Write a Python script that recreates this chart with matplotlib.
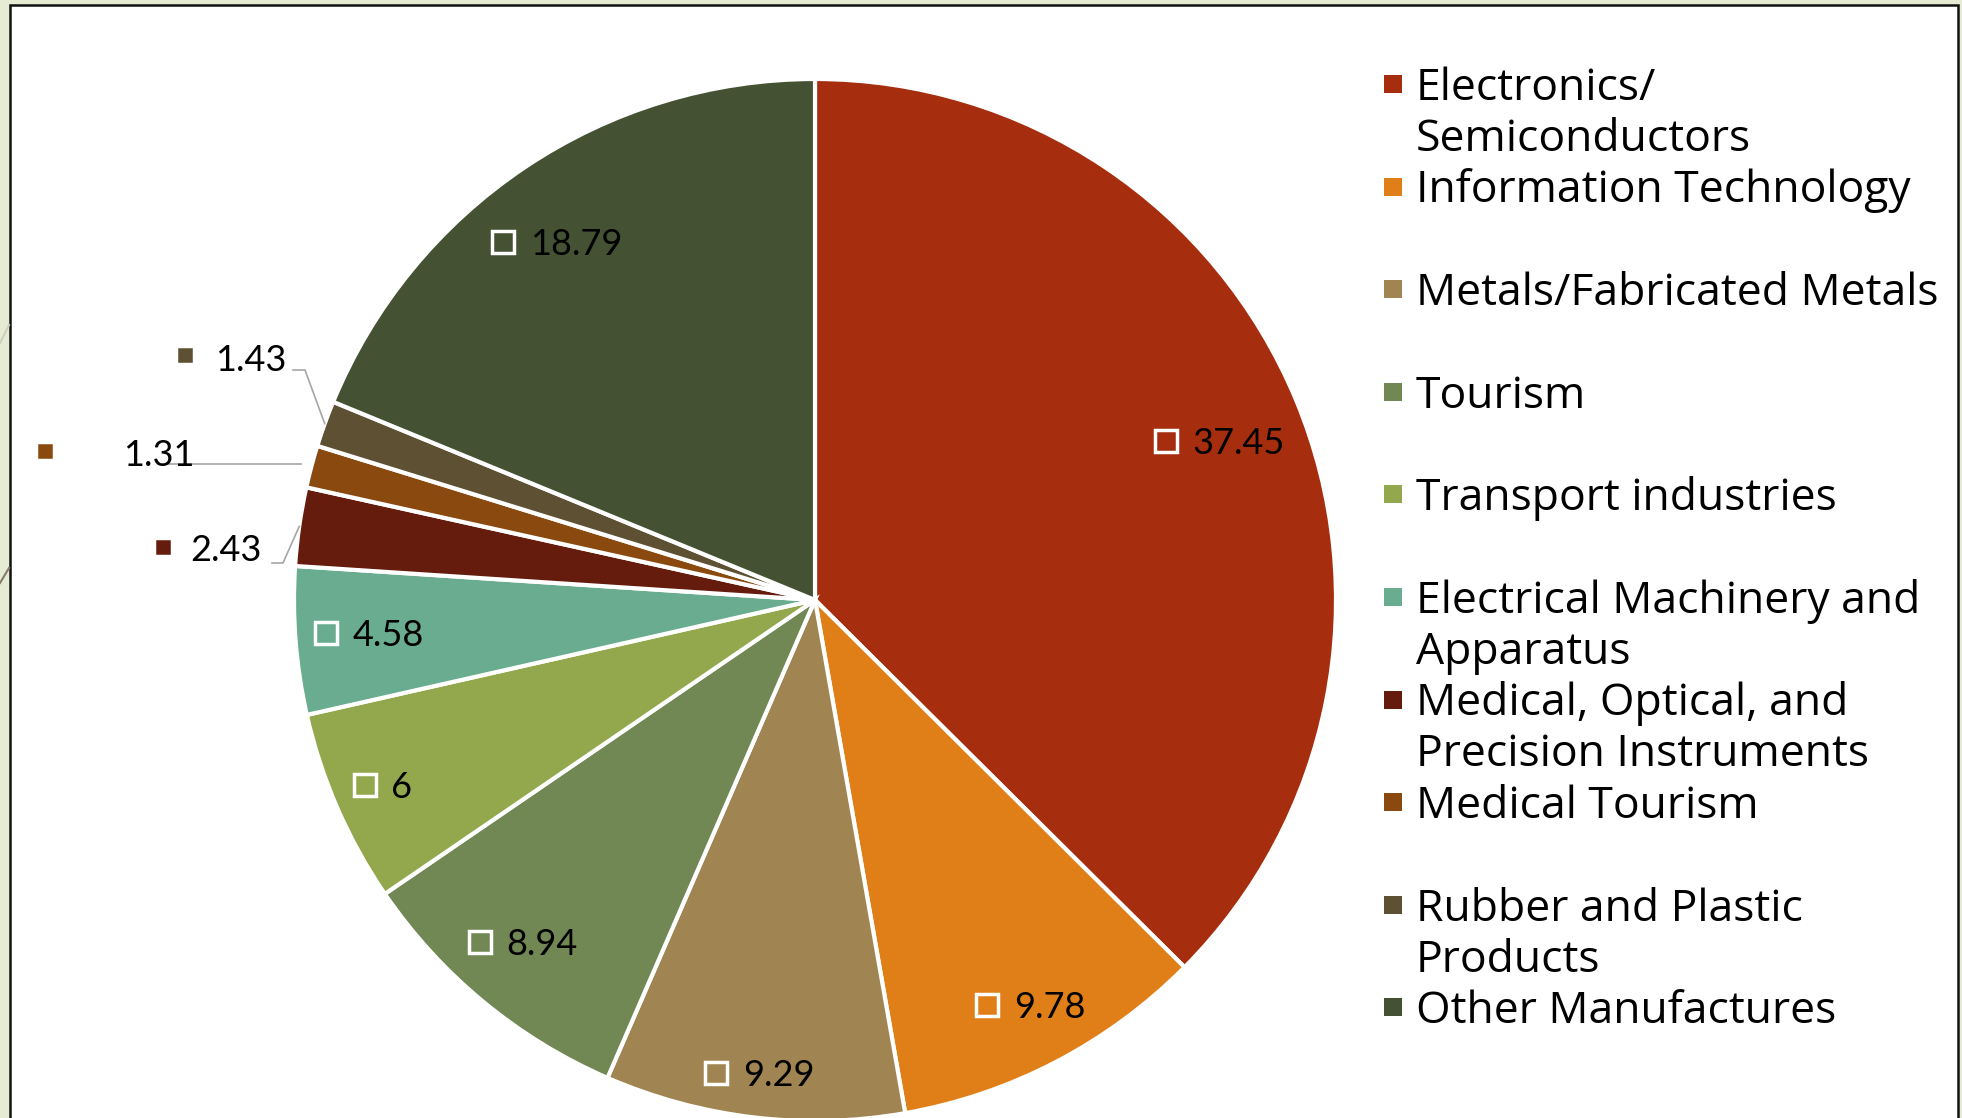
import numpy as np
import matplotlib.pyplot as plt
from matplotlib.patches import Rectangle

plt.rcParams["font.family"] = ["Lato", "DejaVu Sans"]

sectors = [
    "Electronics/\nSemiconductors",
    "Information Technology",
    "Metals/Fabricated Metals",
    "Tourism",
    "Transport industries",
    "Electrical Machinery and\nApparatus",
    "Medical, Optical, and\nPrecision Instruments",
    "Medical Tourism",
    "Rubber and Plastic\nProducts",
    "Other Manufactures",
]
shares = [37.45, 9.78, 9.29, 8.94, 6, 4.58, 2.43, 1.31, 1.43, 18.79]
colors = ["#A62E0F", "#E07E18", "#A08451", "#718754", "#93A84C",
          "#69AC8F", "#661C0D", "#89490F", "#5E5033", "#445133"]
# the medical tourism slice is pulled out a little
explode = [0, 0, 0, 0, 0, 0, 0, 0.02, 0, 0]

# canvas in pixels, y measured from the top for layout numbers
W, H = 1962, 1118
cx, cy, R = 815, 600, 521

# labels inside the slices: (fraction of radius, angle nudge in degrees)
inside = {0: (0.834, -1.1), 1: (0.88, 0.4), 2: (0.915, 0), 3: (0.864, -0.9),
          4: (0.903, -0.4), 5: (0.859, -0.25), 9: (0.848, 2.0)}
# labels pulled outside the pie: marker centre, text left edge, text y, leader elbow points
outside = {
    6: dict(marker=(163, 547), text=(190, 548), leader=[(283, 563), (272, 563)]),
    7: dict(marker=(45, 451), text=(123, 453), leader=[(163, None)]),
    8: dict(marker=(185, 355), text=(215, 358), leader=[(305, 370), (293, 370)]),
}


def Y(y):
    return H - y


fig = plt.figure(figsize=(W / 100, H / 100), dpi=100, facecolor="#E6EBD3")
ax = fig.add_axes([0, 0, 1, 1])
ax.set_facecolor("none")

# slide frame
ax.add_patch(Rectangle((10, -20), 1948, Y(5) + 20, facecolor="white",
                       edgecolor="#111111", linewidth=1.8, zorder=0, clip_on=False))
ax.plot([0, 9], [Y(343), Y(325)], color="#CDD0BC", lw=1.5, zorder=0)
ax.plot([0, 9], [Y(583), Y(568)], color="#857C68", lw=1.5, zorder=0)

wedges, _ = ax.pie(shares, colors=colors, explode=explode, startangle=90,
                   counterclock=False, center=(cx, Y(cy)), radius=R,
                   wedgeprops=dict(edgecolor="white", linewidth=3))
ax.set_xlim(0, W)
ax.set_ylim(0, H)
ax.set_aspect("auto")
ax.axis("off")

renderer = fig.canvas.get_renderer()
lab_size = 26
lab_cap = 0.72 * lab_size * 100 / 72
mk = dict(marker="s", ms=16, mew=2.5, mec="white")

for i, (w, v, c) in enumerate(zip(wedges, shares, colors)):
    mid = np.deg2rad((w.theta1 + w.theta2) / 2)
    label = f"{v:g}"
    if i in inside:
        frac, nudge = inside[i]
        a = mid + np.deg2rad(nudge)
        gx = cx + frac * R * np.cos(a)
        gy = cy - frac * R * np.sin(a)
        t = ax.text(0, 0, label, fontsize=lab_size, color="black", va="baseline", ha="left")
        tw = t.get_window_extent(renderer).width
        left = gx - (39 + tw) / 2
        t.set_position((left + 39, Y(gy + lab_cap / 2)))
        ax.plot(left + 12.5, Y(gy), mfc=c, **mk)
    else:
        o = outside[i]
        rr = R * (1 + explode[i])
        ex, ey = cx + rr * np.cos(mid), cy - rr * np.sin(mid)
        pts = [(ex, ey)] + [(px, ey if py is None else py) for px, py in o["leader"]]
        xs, ys = zip(*pts)
        ax.plot(xs, [Y(y) for y in ys], color="#A6A6A6", lw=1.2, zorder=3)
        tx, ty = o["text"]
        ax.text(tx, Y(ty + lab_cap / 2), label, fontsize=lab_size, color="black",
                va="baseline", ha="left", zorder=4)
        mx, my = o["marker"]
        ax.plot(mx, Y(my), mfc=c, zorder=4, **dict(mk, ms=13.5))

# legend, one two-line slot per sector
leg_size = 32
leg_cap = 0.71 * leg_size * 100 / 72
for i, (name, c) in enumerate(zip(sectors, colors)):
    y0 = 84 + i * 102.6
    ax.plot(1393, Y(y0), marker="s", ms=12.5, mfc=c, mec=c, mew=0)
    for j, line in enumerate(name.split("\n")):
        ax.text(1416, Y(y0 + j * 51 + leg_cap / 2), line, fontsize=leg_size,
                family=["Open Sans", "DejaVu Sans"], color="black",
                va="baseline", ha="left")

fig.savefig("out.png", dpi=100, facecolor=fig.get_facecolor())
